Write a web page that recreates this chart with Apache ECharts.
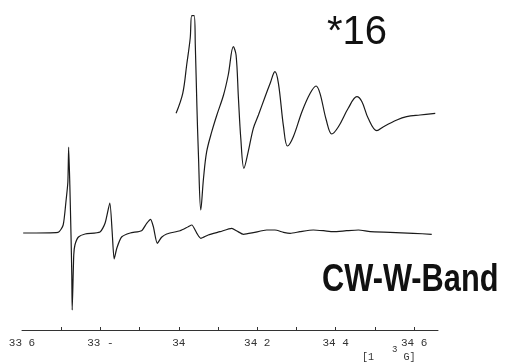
<!DOCTYPE html>
<html>
<head>
<meta charset="utf-8">
<script src="https://cdn.jsdelivr.net/npm/echarts@6/dist/echarts.min.js"></script>
<style>
  html, body { margin: 0; padding: 0; background: #fff; }
  #chart { width: 506px; height: 363px; }
</style>
</head>
<body>
<div id="chart"></div>
<script>
// field in G, intensity in arbitrary units (baseline = 0)
const fullField = [3360.3, 3369.2, 3370.5, 3371.2, 3371.7, 3371.9, 3372.2, 3372.5, 3372.7, 3372.8,
  3373.2, 3373.5, 3374.4, 3376.1, 3379.9, 3381.2, 3382.4, 3383.0, 3383.5, 3384.2,
  3385.4, 3387.6, 3390.5, 3391.8, 3392.8, 3393.5, 3394.5, 3395.6, 3396.9, 3400.3,
  3402.4, 3403.3, 3404.6, 3405.6, 3407.5, 3410.5, 3413.5, 3414.8, 3416.5, 3419.0,
  3422.4, 3424.5, 3426.7, 3428.4, 3430.9, 3434.3, 3436.9, 3439.4, 3442.8, 3445.8,
  3448.8, 3453.9, 3459.8, 3464.5]
const fullSignal = [0, 0.7, 8, 31, 51, 86, 48, -2, -42, -77,
  -22, -12, -4, -1, 1, 10, 30, 1, -26, -15,
  -4, 0, 2.3, 9.7, 13.7, 6.3, -10.3, -4.3, -1, 2.3,
  6.3, 8, -0.3, -5.3, -2, 1.3, 4.7, 2, -1.3, 0.3,
  3, 3, 0.7, -0.3, 1.3, 3, 2.3, 1.3, 2.3, 3,
  1.3, 0.7, -0.3, -1.3]

// x16 expanded part (drawn offset above)
const zoomField = [3399.3, 3401.0, 3402.0, 3402.9, 3403.3, 3403.9, 3404.2, 3404.6, 3405.0, 3405.6,
  3406.3, 3407.1, 3408.4, 3409.7, 3411.4, 3412.6, 3413.9, 3414.6, 3415.2, 3415.8,
  3416.6, 3417.7, 3419.0, 3420.3, 3422.0, 3423.3, 3424.5, 3425.4, 3426.7, 3427.7,
  3429.2, 3431.4, 3433.5, 3435.0, 3436.0, 3437.6, 3439.0, 3440.7, 3443.2, 3445.4,
  3446.7, 3448.3, 3450.5, 3452.2, 3455.6, 3458.1, 3461.5, 3465.4]
const zoomSignal = [119.7, 139.7, 168, 194.7, 217.3, 217.3, 188, 128, 78, 23,
  55, 81.3, 101.3, 118, 138, 158, 186.3, 178, 134.7, 94.7,
  64.7, 81.3, 104.7, 118, 136.3, 149.7, 161.3, 149.7, 106.3, 87,
  96.3, 121.3, 139.7, 147, 139.7, 113, 99, 106.3, 124.7, 136.3,
  131.3, 114.7, 102.3, 106.3, 113, 116.3, 118, 119.7]

const tickValues = [3370, 3380, 3390, 3400, 3410, 3420, 3430, 3440, 3450, 3460]
const labelValues = [3360, 3380, 3400, 3420, 3440, 3460]
const labelTexts = ['33 6', '33 -', '34', '34 2', '34 4', '34 6']

const chart = echarts.init(document.getElementById('chart'))

const toPairs = (xs, ys) => xs.map((x, i) => [x, ys[i]])

const option = {
  animation: false,
  grid: { left: 22, right: 68, top: 13, bottom: 33 },
  xAxis: {
    type: 'value',
    min: 3360,
    max: 3466.1,
    splitLine: { show: false },
    axisLine: { onZero: false, lineStyle: { color: '#333', width: 1 } },
    axisTick: {
      inside: true,
      length: 3,
      customValues: tickValues,
      lineStyle: { color: '#333' }
    },
    axisLabel: {
      customValues: labelValues,
      margin: 8,
      color: '#333',
      fontFamily: 'Liberation Mono',
      fontSize: 11,
      formatter: (v) => {
        const i = labelValues.indexOf(Math.round(v))
        return i >= 0 ? labelTexts[i] : ''
      }
    }
  },
  yAxis: {
    type: 'value',
    min: -97,
    max: 220,
    show: false
  },
  series: [
    {
      type: 'line',
      data: toPairs(fullField, fullSignal),
      showSymbol: false,
      smooth: 0.2,
      lineStyle: { color: '#1a1a1a', width: 1.2 }
    },
    {
      type: 'line',
      data: toPairs(zoomField, zoomSignal),
      showSymbol: false,
      smooth: 0.35,
      lineStyle: { color: '#1a1a1a', width: 1.2 }
    }
  ],
  graphic: [
    {
      type: 'text',
      left: 327,
      top: 13,
      style: {
        text: '*16',
        font: '40px "Liberation Sans", Arial, sans-serif',
        fill: '#111'
      }
    },
    {
      type: 'text',
      x: 322,
      y: 262,
      scaleX: 0.81,
      style: {
        text: 'CW-W-Band',
        font: 'bold 38px "Liberation Sans", Arial, sans-serif',
        fill: '#111'
      }
    },
    {
      type: 'text',
      left: 362,
      top: 345,
      style: {
        text: '{a|[1   }{s|3}{a| G]}',
        fill: '#333',
        rich: {
          a: { fontFamily: 'Liberation Mono', fontSize: 10, color: '#333', verticalAlign: 'bottom' },
          s: { fontFamily: 'Liberation Mono', fontSize: 9, color: '#333', padding: [0, 0, 8, 0] }
        }
      }
    }
  ]
}

chart.setOption(option)
</script>
</body>
</html>
